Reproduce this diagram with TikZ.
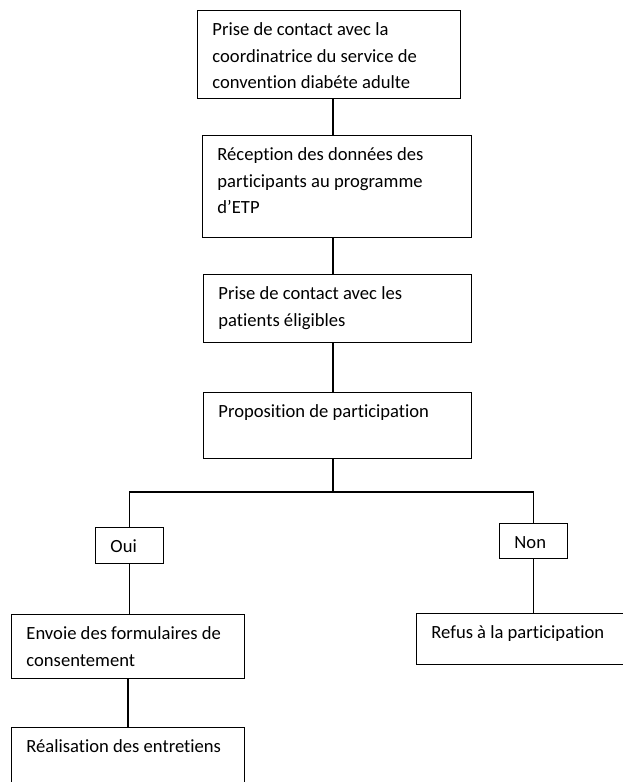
\documentclass[tikz,border=0pt]{standalone}
\usepackage{fontspec}
\setmainfont[Ligatures=NoCommon]{Carlito}
\newcommand{\stagetext}[3]{\parbox[t][#2pt][t]{#1pt}{\leftskip=15pt\rule{0pt}{25pt}#3}}
\tikzset{stagebox/.style={draw, line width=0.9pt, anchor=north west, inner sep=0pt,
    font=\fontsize{18.6}{26.7}\selectfont},
  link/.style={line width=1.4pt}}

\begin{document}
\begin{tikzpicture}[x=1pt, y=-1pt]
\useasboundingbox (0,0) rectangle (623,782);
\node[stagebox] (prise) at (197,10) {\stagetext{263}{88}{Prise de contact avec la\\coordinatrice du service de\\convention diabéte adulte}};
\node[stagebox] (reception) at (202,135) {\stagetext{269}{102}{Réception des données des\\participants au programme\\d’ETP}};
\node[stagebox] (patients) at (203,274) {\stagetext{268}{68}{Prise de contact avec les\\patients éligibles}};
\node[stagebox] (proposition) at (203,392) {\stagetext{268}{66}{Proposition de participation}};
\node[stagebox] (oui) at (95,527) {\stagetext{68}{36}{Oui}};
\node[stagebox] (non) at (499,523) {\stagetext{68}{35}{Non}};
\node[stagebox] (envoie) at (11,614) {\stagetext{233}{64}{Envoie des formulaires de\\consentement}};
\node[stagebox] (refus) at (416,613) {\stagetext{224}{51}{Refus à la participation}};
\node[stagebox] (realisation) at (11,727) {\stagetext{233}{80}{Réalisation des entretiens}};
\coordinate (spine) at (333,0);
\coordinate (fork) at (333,492);
\draw[link] (spine |- prise.south) -- (spine |- reception.north);
\draw[link] (spine |- reception.south) -- (spine |- patients.north);
\draw[link] (spine |- patients.south) -- (spine |- proposition.north);
\draw[link] (spine |- proposition.south) -- (fork);
\draw[link] (oui.north) -- (oui.north |- fork) -- (non.north |- fork) -- (non.north);
\draw[link] (oui.south) -- (oui.south |- envoie.north);
\draw[link] (non.south) -- (non.south |- refus.north);
\draw[link] (envoie.south) -- (envoie.south |- realisation.north);
\end{tikzpicture}
\end{document}
